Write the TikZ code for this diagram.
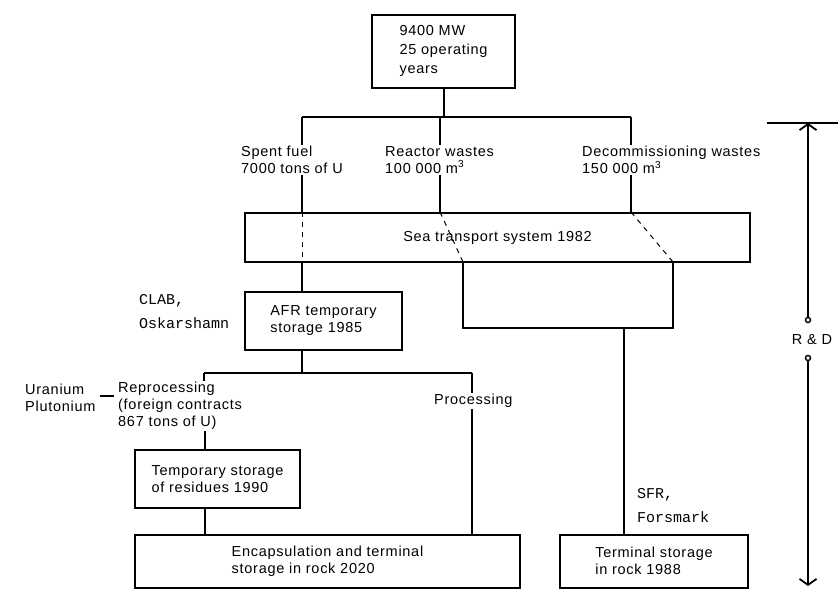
\documentclass[tikz,border=0pt]{standalone}
\usepackage{fontspec}
\setmainfont{Liberation Sans}[LetterSpace=5]
\newfontfamily\typewr{Liberation Mono}
\usepackage{tikz}
\usetikzlibrary{positioning, arrows.meta}

\tikzset{
  box/.style={draw, line width=2pt, align=left, inner sep=0pt},
  lbl/.style={align=left, inner sep=1pt},
  site/.style={align=left, inner sep=1pt, font=\typewr\fontsize{15}{24}\selectfont},
  link/.style={line width=2pt},
  route/.style={line width=1pt, dash pattern=on 5pt off 5pt},
  barb/.style={-{Straight Barb[length=6pt,width=17pt,line width=1.8pt]}},
  hole/.style={draw, circle, inner sep=1.8pt, line width=1.4pt},
}

\begin{document}
\begin{tikzpicture}[x=1pt, y=-1pt, font=\fontsize{14.5}{17}\selectfont]
    \useasboundingbox (0,0) rectangle (838,589);

    % Power plants
    \node[box, minimum width=143, minimum height=73, font=\fontsize{14.5}{19}\selectfont] (plant) at (443.5,51) {9400 MW\\25 operating\\years};

    % Split into waste streams
    \coordinate (j1) at (302,117);
    \coordinate (j2) at (440,117);
    \coordinate (j3) at (631,117);
    \draw[link] (plant.south) -- (plant.south |- j1);
    \draw[link] (j1) -- (j3);

    \node[lbl, anchor=north west] (spent) at (240,145) {Spent fuel\\7000 tons of U};
    \node[lbl, anchor=north west] (reactor) at (384,145) {Reactor wastes\\100 000 m\textsuperscript{3}};
    \node[lbl, anchor=north west] (decom) at (581,145) {Decommissioning wastes\\150 000 m\textsuperscript{3}};

    % Sea transport
    \node[box, minimum width=505, minimum height=49, align=center] (sea) at (497.5,237.5) {Sea transport system 1982};

    \draw[link] (j1) -- (j1 |- spent.north);
    \draw[link] (j1 |- spent.south) -- (j1 |- sea.north);
    \draw[link] (j2) -- (j2 |- reactor.north);
    \draw[link] (j2 |- reactor.south) -- (j2 |- sea.north);
    \draw[link] (j3) -- (j3 |- decom.north);
    \draw[link] (j3 |- decom.south) -- (j3 |- sea.north);

    % Routes through the ship
    \coordinate (u1) at (463,262);
    \coordinate (u2) at (673,262);
    \draw[route] (j1 |- sea.north) -- (j1 |- sea.south);
    \draw[route] (j2 |- sea.north) -- (u1);
    \draw[route] (j3 |- sea.north) -- (u2);

    % Reactor and decommissioning wastes
    \coordinate (u3) at (463,328);
    \coordinate (u4) at (673,328);
    \coordinate (u5) at (624,328);
    \draw[link] (u1) -- (u3) -- (u4) -- (u2);

    % AFR
    \node[box, minimum width=157, minimum height=58] (afr) at (323.5,321) {AFR temporary\\storage 1985};
    \node[site, anchor=north west] (clab) at (138,293) {CLAB,\\Oskarshamn};
    \draw[link] (j1 |- sea.south) -- (j1 |- afr.north);

    % Reprocessing or processing
    \coordinate (k0) at (302,373);
    \coordinate (k1) at (204,373);
    \coordinate (k2) at (472,373);
    \draw[link] (afr.south -| k0) -- (k0);
    \draw[link] (k1) -- (k2);

    \node[lbl, anchor=north west] (repro) at (117,381) {Reprocessing\\(foreign contracts\\867 tons of U)};
    \node[lbl, anchor=north west] (proc) at (433,393) {Processing};
    \node[lbl, anchor=west] (uran) at (24,398) {Uranium\\Plutonium};
    \draw[link] ([xshift=3pt,yshift=2pt]uran.east) -- ([xshift=-3pt,yshift=2pt]uran.east -| repro.west);
    \draw[link] (k1) -- (k1 |- repro.north);

    % Residues
    \coordinate (m0) at (205,440);
    \node[box, minimum width=165, minimum height=58] (temp) at (217.5,479) {Temporary storage\\of residues 1990};
    \draw[link] (repro.south -| m0) -- (m0 |- temp.north);

    % Final storage
    \node[box, minimum width=385, minimum height=53] (encap) at (327.5,561) {Encapsulation and terminal\\storage in rock 2020};
    \node[box, minimum width=188, minimum height=53] (term) at (654,561) {Terminal storage\\in rock 1988};
    \node[site, anchor=north west] (sfr) at (636,487) {SFR,\\Forsmark};

    \draw[link] (m0 |- temp.south) -- (m0 |- encap.north);
    \draw[link] (k2) -- (k2 |- proc.north);
    \draw[link] (k2 |- proc.south) -- (k2 |- encap.north);
    \draw[link] (u5) -- (u5 |- term.north);

    % R & D span
    \coordinate (barl) at (767,123);
    \coordinate (barr) at (838,123);
    \coordinate (rdtop) at (808,123);
    \coordinate (rdbot) at (808,586);
    \draw[link] (barl) -- (barr);
    \node[hole] (rdc1) at (808,320) {};
    \node[lbl] (rd) at (812,340) {R \& D};
    \node[hole] (rdc2) at (808,358) {};
    \draw[link, barb] (rdc1) -- (rdtop);
    \draw[link, barb] (rdc2) -- (rdbot);

\end{tikzpicture}
\end{document}
